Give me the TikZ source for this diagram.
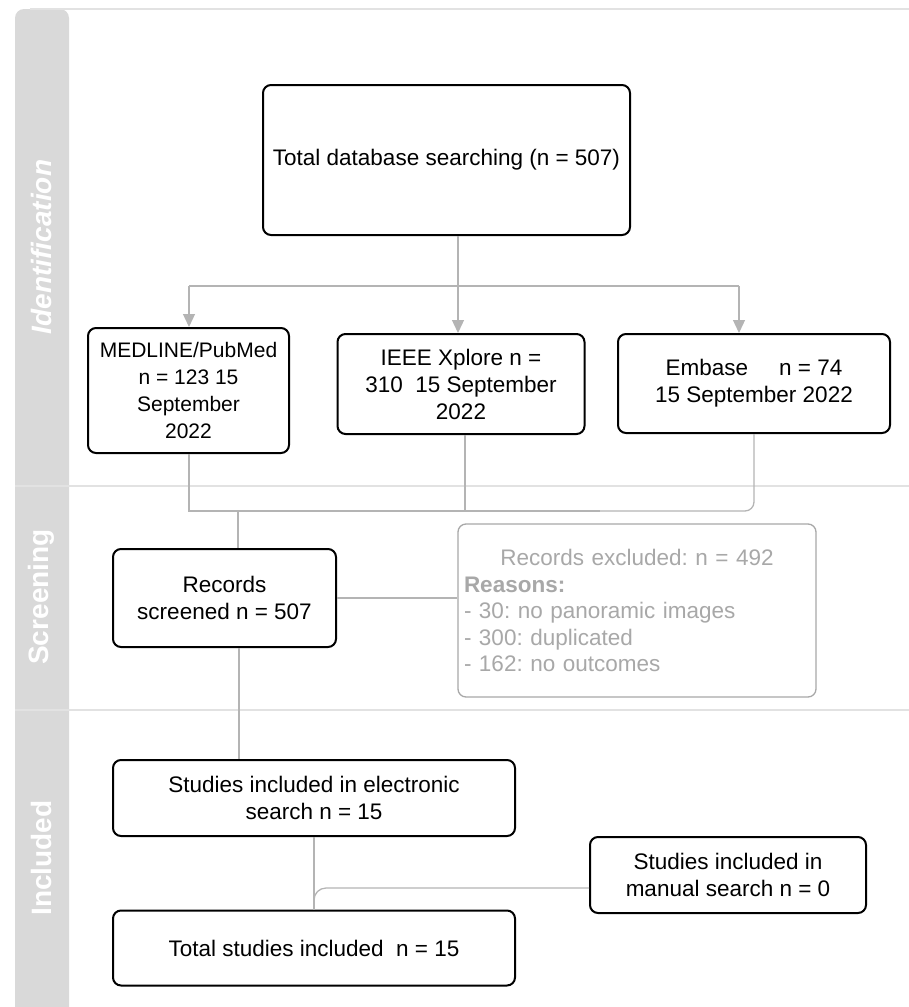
\documentclass[tikz,border=0pt]{standalone}
\usepackage{fontspec}
\setmainfont{Liberation Sans}
\usetikzlibrary{arrows.meta,calc}
\definecolor{band}{HTML}{D9D9D9}
\definecolor{divline}{HTML}{E2E2E2}
\definecolor{connc}{HTML}{B4B4B4}
\definecolor{excc}{HTML}{A8A8A8}
\tikzset{
  box/.style={draw=black, line width=2pt, rounded corners=8pt, fill=white, inner sep=0pt, align=center,
    font=\fontsize{22.5}{27}\selectfont},
  conn/.style={draw=connc, line width=1.3pt},
  arr/.style={conn, -{Triangle[width=12pt,length=13pt]}, connc},
  lane/.style={rotate=90, text=white, font=\fontsize{28}{30}\selectfont\bfseries},
}
\frenchspacing
\begin{document}
\begin{tikzpicture}[x=1pt,y=-1pt]
\useasboundingbox (0,0) rectangle (909,1007);
% lanes
\fill[band, rounded corners=9pt] (15,1020) -- (15,9) -- (69,9) -- (69,1020);
\fill[band] (15,990) rectangle (69,1007);
\draw[divline, line width=2pt] (30,9) -- (909,9);
\draw[divline, line width=2pt] (15,486) -- (909,486);
\draw[divline, line width=2pt] (15,710) -- (909,710);
\node[lane, font=\fontsize{28}{30}\selectfont\bfseries\itshape] (lid) at (41,247) {Identification};
\node[lane] (lsc) at (41,597) {Screening};
\node[lane] (lin) at (41,858) {Included};
% boxes
\node[box, minimum width=367pt, minimum height=150pt] (tot) at (446.5,160) {Total database searching (n = 507)};
\node[box, minimum width=201pt, minimum height=125pt, font=\fontsize{21}{27}\selectfont] (med) at (188.5,390.5) {MEDLINE/PubMed\\n = 123 15\\September\\2022};
\node[box, minimum width=247pt, minimum height=100pt] (ieee) at (461,384) {IEEE Xplore n =\\310\ \ 15 September\\2022};
\node[box, minimum width=272pt, minimum height=99pt] (emb) at (754,383.5) {Embase\hspace{1.1em} n = 74\\15 September 2022};
\node[box, minimum width=223pt, minimum height=98pt] (rec) at (224.5,598) {Records\\screened n = 507};
\node[box, draw=excc, line width=1.3pt, text=excc, minimum width=358pt, minimum height=173pt, text width=346pt, align=left,
  font=\fontsize{22.5}{26.5}\selectfont] (exc) at (637,610.5)
  {\makebox[346pt]{Records excluded: n = 492}\\\textbf{Reasons:}\\- 30: no panoramic images\\- 300: duplicated\\- 162: no outcomes};
\node[box, minimum width=402pt, minimum height=76pt] (ele) at (314,798) {Studies included in electronic\\search n = 15};
\node[box, minimum width=276pt, minimum height=76pt] (man) at (728,875) {Studies included in\\manual search n = 0};
\node[box, minimum width=402pt, minimum height=75pt] (tts) at (314,948) {Total studies included\ \ n = 15};
% connectors identification
\coordinate (s) at (458,286);
\coordinate (sl) at (189,286);
\coordinate (sr) at (739,286);
\draw[conn] (sl) -- (sr);
\draw[arr] (tot.south -| s) -- (ieee.north -| s);
\draw[arr] (sl) -- (sl |- med.north);
\draw[arr] (sr) -- (sr |- emb.north);
% merge
\coordinate (mb) at (189,511);
\coordinate (eb) at (754,511);
\coordinate (ib) at (465,511);
\coordinate (rb) at (238,511);
\draw[conn] (med.south -| mb) -- (mb) -- (600,511);
\draw[conn, rounded corners=9pt] (580,511) -- (eb) -- (emb.south);
\draw[conn] (ieee.south -| ib) -- (ib);
\draw[conn] (rb) -- (rec.north -| rb);
% screening
\coordinate (rx) at (239,700);
\draw[conn] (rec.south -| rx) -- (ele.north -| rx);
\draw[conn] (rec.east) -- (rec.east -| exc.west);
% included
\coordinate (mj) at (314,888);
\draw[conn] (ele.south) -- (tts.north);
\draw[conn, rounded corners=12pt] (man.west |- mj) -- (mj) -- (tts.north);
\end{tikzpicture}
\end{document}
